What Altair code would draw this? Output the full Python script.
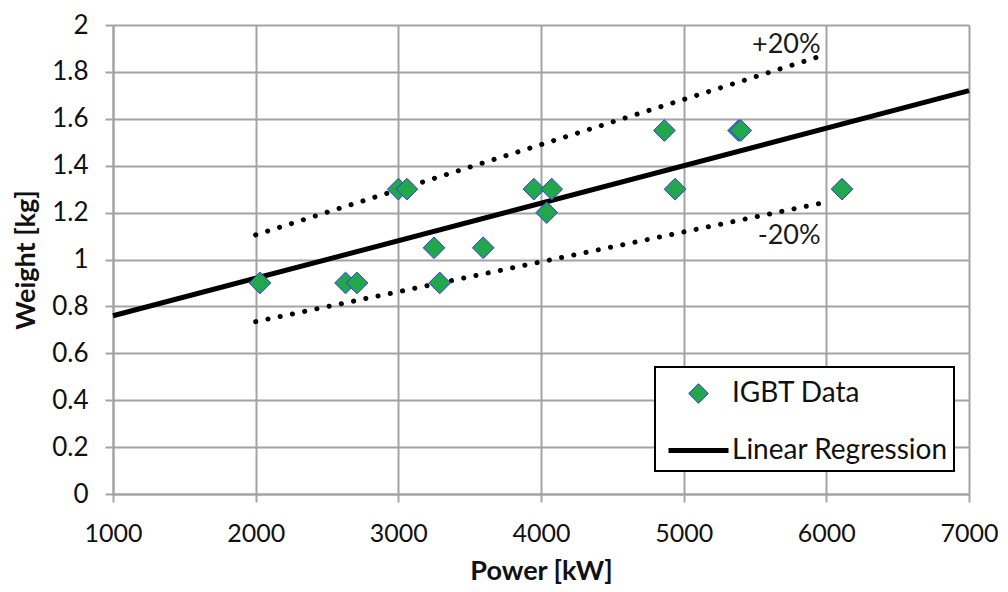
import altair as alt
import pandas as pd

# ---- data ----
power_kw = [2030, 2630, 2710, 3000, 3060, 3250, 3290, 3595, 3950, 4075, 4040, 4865, 4940, 5385, 5400, 6110]
weight_kg = [0.90, 0.90, 0.90, 1.30, 1.30, 1.05, 0.90, 1.05, 1.30, 1.30, 1.20, 1.55, 1.30, 1.55, 1.55, 1.30]

reg_x = [1000, 7000]
reg_y = [0.76, 1.72]

band_names = ["+20%", "+20%", "-20%", "-20%"]
band_x = [2000, 6000, 2000, 6000]
band_y = [1.105, 1.875, 0.735, 1.245]

note_text = ["+20%", "-20%"]
note_x = [5960, 5960]
note_y = [1.915, 1.10]

series = ["IGBT Data", "Linear Regression"]
x_ticks = [1000, 2000, 3000, 4000, 5000, 6000, 7000]
y_ticks = [0, 0.2, 0.4, 0.6, 0.8, 1, 1.2, 1.4, 1.6, 1.8, 2]

GREEN = "#22a84b"
BLUE = "#3434ff"
GRID = "#a3a3a3"
FONT = "Lato"

pts = pd.DataFrame({"Power": power_kw, "Weight": weight_kg, "Series": ["IGBT Data"] * len(power_kw)})
reg = pd.DataFrame({"Power": reg_x, "Weight": reg_y})
band = pd.DataFrame({"Band": band_names, "Power": band_x, "Weight": band_y})
notes = pd.DataFrame({"Text": note_text, "Power": note_x, "Weight": note_y})

x_enc = alt.X("Power:Q", scale=alt.Scale(domain=[1000, 7000], nice=False),
              axis=alt.Axis(values=x_ticks, format="d", title="Power [kW]", labelFlush=False,
                            labelFontSize=25, labelPadding=19, titlePadding=12))
y_enc = alt.Y("Weight:Q", scale=alt.Scale(domain=[0, 2], nice=False),
              axis=alt.Axis(values=y_ticks, format="~g", title="Weight [kg]", labelFlush=False,
                            labelPadding=17, titlePadding=11))

diamond = "M-0.49,0L0,-0.49L0.49,0L0,0.49Z"
line_path = "M-1.5,0L1.5,0"

points = alt.Chart(pts).mark_point(filled=True, opacity=1, size=1960).encode(
    x=x_enc,
    y=y_enc,
    fill=alt.Fill("Series:N", scale=alt.Scale(domain=series, range=[GREEN, "black"]),
                  legend=alt.Legend(title=None)),
    stroke=alt.Stroke("Series:N", scale=alt.Scale(domain=series, range=[BLUE, "black"]),
                      legend=alt.Legend(title=None)),
    shape=alt.Shape("Series:N", scale=alt.Scale(domain=series, range=[diamond, line_path]),
                    legend=alt.Legend(title=None)),
    strokeWidth=alt.StrokeWidth("Series:N", scale=alt.Scale(type="ordinal", domain=series, range=[1, 5]),
                                legend=alt.Legend(title=None)),
)

reg_line = alt.Chart(reg).mark_line(color="black", strokeWidth=5).encode(x=x_enc, y=y_enc)

band_lines = alt.Chart(band).mark_line(color="black", strokeWidth=5, strokeDash=[0.1, 12.4],
                                       strokeCap="round").encode(x=x_enc, y=y_enc, detail="Band:N")

note_marks = alt.Chart(notes).mark_text(font=FONT, fontSize=27, align="right", baseline="middle",
                                        color="#1a1a1a").encode(x=x_enc, y=y_enc, text="Text:N")

chart = alt.layer(band_lines, reg_line, points, note_marks).properties(
    width=856, height=469,
    autosize=alt.AutoSizeParams(type="none"),
    padding={"left": 105, "top": 17, "right": 31, "bottom": 90},
).configure_view(stroke="transparent").configure_axis(
    grid=True, gridColor=GRID, gridWidth=2,
    domainColor=GRID, domainWidth=2,
    tickColor=GRID, tickWidth=2, tickSize=8,
    labelFont=FONT, labelFontSize=26, labelColor="#111111",
    titleFont=FONT, titleFontSize=27, titleFontWeight="bold", titleColor="#111111",
).configure_legend(
    orient="none", legendX=542, legendY=342,
    padding=6, rowPadding=20, symbolOffset=15, labelOffset=11, labelLimit=400,
    symbolSize=1600, symbolOpacity=1,
    labelFont=FONT, labelFontSize=28, labelColor="#111111",
    strokeColor="black", strokeWidth=2, fillColor="white",
)

chart.save("out.html", embed_options={"renderer": "svg", "actions": False})
